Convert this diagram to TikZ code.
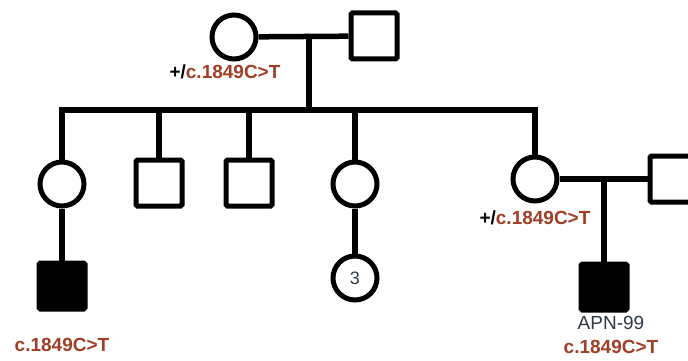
\documentclass[tikz,border=0pt]{standalone}
\usepackage{fontspec}
\setmainfont{Liberation Sans}
\usepackage{xcolor}
\usepackage{tikz}
\definecolor{mutred}{RGB}{160,62,38}
\definecolor{idgray}{RGB}{45,58,72}

\begin{document}
\begin{tikzpicture}[x=1pt,y=-1pt,
  rel/.style={line width=5.5pt},
  fem/.style={circle,draw,line width=5pt,minimum size=44pt,inner sep=0pt},
  mal/.style={rectangle,draw,line width=5pt,minimum size=46pt,inner sep=0pt,rounded corners=1.5pt},
  aff/.style={mal,fill=black},
  gtxt/.style={font=\fontsize{19}{22}\selectfont\bfseries,text=mutred,inner sep=0pt},
  idtxt/.style={font=\fontsize{19}{22}\selectfont,text=idgray,inner sep=0pt}]
  \useasboundingbox (0,0) rectangle (688,361);
  % parents
  \node[fem] (mo) at (234,37) {};
  \node[mal] (fa) at (374,36) {};
  \coordinate (m1) at (309,36);
  \draw[rel] (mo) -- (fa);
  % sibship
  \coordinate (s1) at (62,110); \coordinate (s5) at (535,110);
  \node[fem] (c1) at (62,184) {};
  \node[mal] (c2) at (159,183) {};
  \node[mal] (c3) at (249,183) {};
  \node[fem] (c4) at (355,184) {};
  \node[fem] (c5) at (535,179) {};
  \draw[rel] (m1) -- (m1 |- s1);
  \draw[rel] (c1.north) -- (s1) -- (s5) -- (c5.north);
  \draw[rel] (c2.north |- s1) -- (c2.north);
  \draw[rel] (c3.north |- s1) -- (c3.north);
  \draw[rel] (c4.north |- s1) -- (c4.north);
  % next generation
  \node[aff] (g1) at (62,286) {};
  \draw[rel] (c1) -- (g1);
  \node[fem,font=\fontsize{18}{20}\selectfont,text=idgray] (g4) at (355,278) {3};
  \draw[rel] (c4) -- (g4);
  \node[mal] (sp) at (673,179) {};
  \coordinate (m5) at (604,179);
  \draw[rel] (c5) -- (sp);
  \node[aff] (g5) at (604,287) {};
  \draw[rel] (m5) -- (g5);
  % genotypes
  \node[gtxt] (tmo) at (225,72) {{\color{black}+/}c.1849C>T};
  \node[gtxt] (tc5) at (535,218) {{\color{black}+/}c.1849C>T};
  \node[gtxt] (tg1) at (62,345) {c.1849C>T};
  \node[idtxt] (id5) at (611,323) {APN-99};
  \node[gtxt] (tg5) at (611,347) {c.1849C>T};
\end{tikzpicture}
\end{document}
